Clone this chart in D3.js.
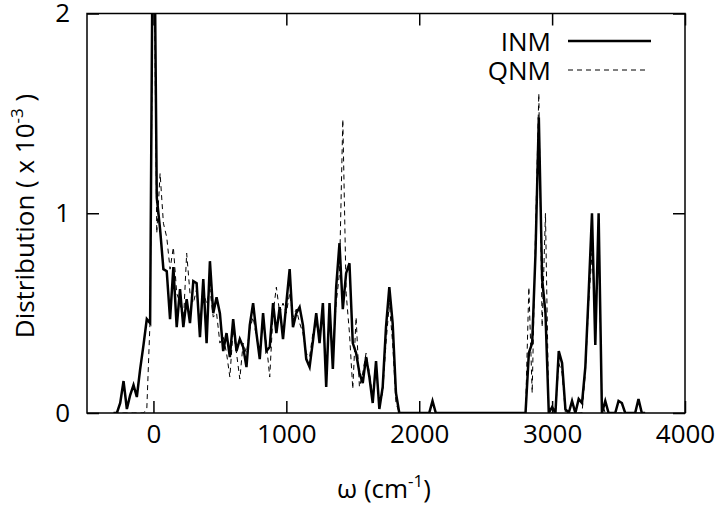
<!DOCTYPE html>
<html>
<head>
<meta charset="utf-8">
<script src="https://cdn.jsdelivr.net/npm/d3@7"></script>
<style>
  body { margin: 0; background: #fff; }
  svg { display: block; font-family: "Open Sans", sans-serif; }
  .tick text { font-size: 26px; fill: #000; }
</style>
</head>
<body>
<svg width="720" height="506"></svg>
<script>
// bins (cm^-1)
const omega = [
  -300, -275, -250, -225, -200, -175, -150, -125, -100, -75, -50, -25,
  0, 25, 50, 75, 100, 125, 150, 175, 200, 225, 250, 275,
  300, 325, 350, 375, 400, 425, 450, 475, 500, 525, 550, 575,
  600, 625, 650, 675, 700, 725, 750, 775, 800, 825, 850, 875,
  900, 925, 950, 975, 1000, 1025, 1050, 1075, 1100, 1125, 1150, 1175,
  1200, 1225, 1250, 1275, 1300, 1325, 1350, 1375, 1400, 1425, 1450, 1475,
  1500, 1525, 1550, 1575, 1600, 1625, 1650, 1675, 1700, 1725, 1750, 1775,
  1800, 1825, 1850, 1875, 1900, 1925, 1950, 1975, 2000, 2025, 2050, 2075,
  2100, 2125, 2150, 2175, 2200, 2225, 2250, 2275, 2300, 2325, 2350, 2375,
  2400, 2425, 2450, 2475, 2500, 2525, 2550, 2575, 2600, 2625, 2650, 2675,
  2700, 2725, 2750, 2775, 2800, 2825, 2850, 2875, 2900, 2925, 2950, 2975,
  3000, 3025, 3050, 3075, 3100, 3125, 3150, 3175, 3200, 3225, 3250, 3275,
  3300, 3325, 3350, 3375, 3400, 3425, 3450, 3475, 3500, 3525, 3550, 3575,
  3600, 3625, 3650, 3675, 3700
];

// INM distribution (x 10^-3)
const inm = [
  0, 0, 0.05, 0.16, 0.02, 0.09, 0.14, 0.08, 0.22, 0.34, 0.47, 0.45,
  3.0, 1.08, 0.92, 0.72, 0.71, 0.47, 0.73, 0.43, 0.62, 0.43, 0.57, 0.45,
  0.66, 0.65, 0.38, 0.67, 0.35, 0.76, 0.5, 0.58, 0.5, 0.31, 0.4, 0.28,
  0.47, 0.31, 0.37, 0.33, 0.23, 0.44, 0.55, 0.4, 0.27, 0.5, 0.31, 0.33,
  0.55, 0.4, 0.53, 0.37, 0.55, 0.72, 0.43, 0.5, 0.53, 0.44, 0.27, 0.23,
  0.36, 0.5, 0.35, 0.55, 0.13, 0.55, 0.22, 0.63, 0.85, 0.52, 0.7, 0.75,
  0.35, 0.3, 0.2, 0.15, 0.28, 0.18, 0.05, 0.26, 0.02, 0.13, 0.43, 0.63,
  0.45, 0.1, 0, 0, 0, 0, 0, 0, 0, 0, 0, 0,
  0.06, 0, 0, 0, 0, 0, 0, 0, 0, 0, 0, 0,
  0, 0, 0, 0, 0, 0, 0, 0, 0, 0, 0, 0,
  0, 0, 0, 0, 0, 0.3, 0.35, 0.8, 1.48, 0.67, 0.5, 0,
  0.03, 0, 0.31, 0.25, 0.02, 0, 0.06, 0, 0.07, 0.05, 0.23, 0.6,
  1.0, 0.34, 1.0, 0, 0.06, 0, 0, 0, 0.06, 0.05, 0, 0,
  0, 0, 0.07, 0, 0
];

// QNM distribution (x 10^-3)
const qnm = [
  0, 0, 0, 0, 0, 0, 0, 0, 0, 0, 0.02, 0.47,
  2.6, 0.9, 1.2, 0.95, 0.88, 0.72, 0.83, 0.6, 0.55, 0.45, 0.8, 0.6,
  0.55, 0.62, 0.45, 0.6, 0.55, 0.62, 0.48, 0.5, 0.35, 0.38, 0.3, 0.18,
  0.42, 0.3, 0.17, 0.35, 0.3, 0.42, 0.48, 0.38, 0.3, 0.45, 0.35, 0.18,
  0.5, 0.63, 0.5, 0.55, 0.5, 0.6, 0.48, 0.52, 0.45, 0.4, 0.3, 0.28,
  0.4, 0.45, 0.38, 0.5, 0.2, 0.5, 0.3, 0.55, 0.7, 1.47, 0.6, 0.4,
  0.12, 0.48, 0.13, 0.2, 0.3, 0.2, 0.08, 0.22, 0.05, 0.1, 0.35, 0.55,
  0.35, 0.05, 0, 0, 0, 0, 0, 0, 0, 0, 0, 0,
  0, 0, 0, 0, 0, 0, 0, 0, 0, 0, 0, 0,
  0, 0, 0, 0, 0, 0, 0, 0, 0, 0, 0, 0,
  0, 0, 0, 0, 0, 0.63, 0.1, 0.9, 1.6, 0.43, 1.0, 0,
  0, 0, 0.25, 0.2, 0, 0, 0, 0, 0, 0, 0.2, 0.55,
  0.8, 0.5, 0.85, 0.05, 0, 0, 0, 0, 0, 0, 0, 0,
  0, 0, 0, 0, 0
];

const xTicks = [0, 1000, 2000, 3000, 4000];
const yTicks = [0, 1, 2];

const svg = d3.select("svg");
const width = +svg.attr("width");
const height = +svg.attr("height");
const margin = { top: 13.5, right: 35, bottom: 93, left: 87 };
const w = width - margin.left - margin.right;
const h = height - margin.top - margin.bottom;

const x = d3.scaleLinear().domain([-500, 4000]).range([0, w]);
const y = d3.scaleLinear().domain([0, 2]).range([h, 0]);

const g = svg.append("g").attr("transform", `translate(${margin.left},${margin.top})`);

g.append("clipPath").attr("id", "clip")
  .append("rect").attr("width", w).attr("height", h);

// axes, ticks pointing inward on all four sides
const axB = g.append("g").attr("transform", `translate(0,${h})`)
  .call(d3.axisBottom(x).tickValues(xTicks).tickSizeInner(-12).tickSizeOuter(0).tickPadding(11.5).tickFormat(d3.format("d")));
const axT = g.append("g")
  .call(d3.axisTop(x).tickValues(xTicks).tickSizeInner(-12).tickSizeOuter(0).tickFormat(""));
const axL = g.append("g")
  .call(d3.axisLeft(y).tickValues(yTicks).tickSizeInner(-12).tickSizeOuter(0).tickPadding(17).tickFormat(d3.format("d")));
const axR = g.append("g").attr("transform", `translate(${w},0)`)
  .call(d3.axisRight(y).tickValues(yTicks).tickSizeInner(-12).tickSizeOuter(0).tickFormat(""));

[axB, axT, axL, axR].forEach(function (a) {
  a.select(".domain").remove();
  a.selectAll(".tick line").attr("stroke", "#000").attr("stroke-width", 1.5);
  a.selectAll("text").attr("font-family", "Open Sans").attr("font-size", 26);
});

// data lines
const line = function (vals) {
  return d3.line()
    .x(function (d, i) { return x(omega[i]); })
    .y(function (d) { return y(d); })(vals);
};

const plot = g.append("g").attr("clip-path", "url(#clip)");

plot.append("path")
  .attr("d", line(qnm))
  .attr("fill", "none")
  .attr("stroke", "#000")
  .attr("stroke-width", 1)
  .attr("stroke-dasharray", "5,4");

plot.append("path")
  .attr("d", line(inm))
  .attr("fill", "none")
  .attr("stroke", "#000")
  .attr("stroke-width", 2.5)
  .attr("stroke-linejoin", "miter");

// frame
g.append("rect")
  .attr("width", w).attr("height", h)
  .attr("fill", "none")
  .attr("stroke", "#000")
  .attr("stroke-width", 1.5);

// legend
const legend = svg.append("g").attr("font-size", 26);
legend.append("text").attr("x", 551).attr("y", 51).attr("text-anchor", "end").text("INM");
legend.append("line").attr("x1", 568).attr("x2", 651).attr("y1", 41).attr("y2", 41)
  .attr("stroke", "#000").attr("stroke-width", 2.5);
legend.append("text").attr("x", 551).attr("y", 80).attr("text-anchor", "end").text("QNM");
legend.append("line").attr("x1", 568).attr("x2", 645).attr("y1", 70).attr("y2", 70)
  .attr("stroke", "#000").attr("stroke-width", 1).attr("stroke-dasharray", "5,4");

// axis labels
const xl = svg.append("text")
  .attr("x", 384).attr("y", 498)
  .attr("text-anchor", "middle")
  .attr("font-size", 26);
xl.append("tspan").text("ω (cm");
xl.append("tspan").attr("dy", -11).attr("font-size", 17).text("-1");
xl.append("tspan").attr("dy", 11).text(")");

const yl = svg.append("text")
  .attr("transform", "translate(34,216) rotate(-90)")
  .attr("text-anchor", "middle")
  .attr("font-size", 26);
yl.append("tspan").text("Distribution ( x 10");
yl.append("tspan").attr("dy", -11).attr("font-size", 17).text("-3");
yl.append("tspan").attr("dy", 11).text(" )");
</script>
</body>
</html>
